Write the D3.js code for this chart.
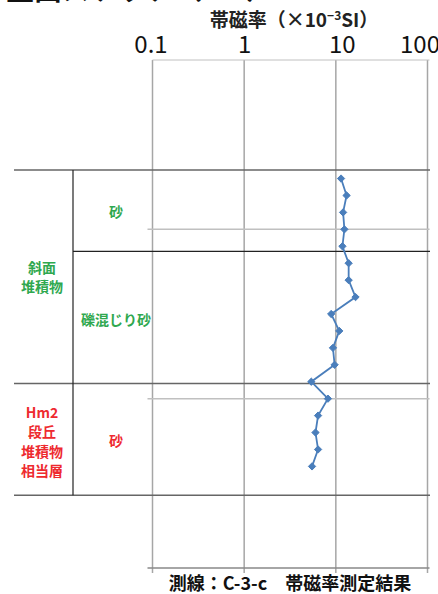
<!DOCTYPE html>
<html><head><meta charset="utf-8">
<script src="https://cdn.jsdelivr.net/npm/d3@7"></script>
<style>
html,body{margin:0;padding:0;background:#fff;}
svg{display:block;}
text{font-family:"Noto Sans CJK JP","Noto Sans",sans-serif;}
</style></head>
<body>
<svg id="chart" width="438" height="594"></svg>
<script>
// ---- data ----
const depths = [0.7,0.8,0.9,1.0,1.1,1.2,1.3,1.4,1.5,1.6,1.7,1.8,1.9,2.0,2.1,2.2,2.3,2.4];
const susceptibility = [11.4,13.1,12.0,12.4,11.8,13.8,13.8,16.4,8.9,10.9,9.3,9.7,5.4,8.2,6.4,6.0,6.4,5.5];
const xTicks = [0.1,1,10,100];
const depthGrid = [0,1,2,3];
const unitBounds = [0.65,2.57];           // outer layer boundaries (full width)
const subBounds = [1.13];                 // inner boundary (right columns)
const groupBound = [1.91];                // group boundary (full width)
const groupLabels = [["斜面","堆積物"],["Hm2","段丘","堆積物","相当層"]];
const groupDepths = [1.285, 2.255];
const groupColors = ["#2fa84f","#ee2a2f"];
const layerLabels = ["砂","礫混じり砂","砂"];
const layerDepths = [0.897, 1.535, 2.25];
const layerColors = ["#2fa84f","#2fa84f","#ee2a2f"];
const title = "壁面スケッチ（C-3）";
const caption = "測線：C-3-c　帯磁率測定結果";

const svg = d3.select("#chart");
const x = d3.scaleLog().domain([0.1,100]).range([152.5,427.5]);
const y = d3.scaleLinear().domain([0,3]).range([60,568]);

// partially cut title at top
svg.append("text").attr("x",6).attr("y",0).attr("font-size",28).attr("font-weight",700)
  .attr("fill","#111").text(title);

// axis title
const at = svg.append("text").attr("x",294).attr("y",27).attr("text-anchor","middle")
  .attr("font-size",19).attr("font-weight",700).attr("fill","#222");
at.append("tspan").text("帯磁率（×10");
at.append("tspan").attr("font-size",12).attr("dy",-7).text("−3");
at.append("tspan").attr("dy",7).text("SI）");

// top axis tick labels
const xAxis = d3.axisTop(x).tickValues(xTicks).tickFormat(d3.format("~g")).tickSize(0).tickPadding(7);
const gx = svg.append("g").attr("transform","translate(0,60)").call(xAxis);
gx.select(".domain").remove();
const dxs = [-2,0,6,-8];
gx.selectAll("text").attr("font-family","'Liberation Sans Narrow','Liberation Sans',sans-serif")
  .attr("font-size",24).attr("font-weight",400).attr("fill","#111")
  .attr("dx",(d,i)=>dxs[i]);

// vertical gridlines
svg.append("g").selectAll("line").data(xTicks).join("line")
  .attr("x1",d=>x(d)).attr("x2",d=>x(d)).attr("y1",y(0)).attr("y2",y(3)+5)
  .attr("stroke","#a6a6a6").attr("stroke-width",1.5);

// horizontal depth gridlines with left ticks
svg.append("g").selectAll("line").data(depthGrid).join("line")
  .attr("x1",d=>d===0?x(0.1):x(0.1)-5).attr("x2",x(100)+2)
  .attr("y1",d=>y(d)).attr("y2",d=>y(d))
  .attr("stroke",d=>d===3?"#888":"#c0c0c0").attr("stroke-width",d=>d===0?1:1.5);

// layer boundaries
svg.append("g").selectAll("line").data(unitBounds.concat(groupBound)).join("line")
  .attr("x1",14).attr("x2",430).attr("y1",d=>y(d)).attr("y2",d=>y(d))
  .attr("stroke","#666").attr("stroke-width",1.5);
svg.append("g").selectAll("line").data(subBounds).join("line")
  .attr("x1",73).attr("x2",430).attr("y1",d=>y(d)).attr("y2",d=>y(d))
  .attr("stroke","#222").attr("stroke-width",1.2);
svg.append("line").attr("x1",73).attr("x2",73).attr("y1",y(unitBounds[0])).attr("y2",y(unitBounds[1]))
  .attr("stroke","#222").attr("stroke-width",1.2);

// group labels
groupLabels.forEach((lines,i)=>{
  const n = lines.length, lh = 19.5;
  const t = svg.append("text").attr("text-anchor","middle").attr("font-size",14)
    .attr("font-weight",700).attr("fill",groupColors[i]);
  lines.forEach((s,j)=>{
    t.append("tspan").attr("x",42).attr("y",y(groupDepths[i]) + (j-(n-1)/2)*lh + 5).text(s);
  });
});
// layer labels
svg.append("g").selectAll("text").data(layerLabels).join("text")
  .attr("x",116).attr("y",(d,i)=>y(layerDepths[i])+5).attr("text-anchor","middle")
  .attr("font-size",14).attr("font-weight",700).attr("fill",(d,i)=>layerColors[i]).text(d=>d);

// data line
const pts = depths.map((d,i)=>[susceptibility[i],d]);
svg.append("path").datum(pts)
  .attr("d",d3.line().x(p=>x(p[0])).y(p=>y(p[1])))
  .attr("fill","none").attr("stroke","#4a7ebb").attr("stroke-width",1.8);
svg.append("g").selectAll("path").data(pts).join("path")
  .attr("transform",p=>`translate(${x(p[0])},${y(p[1])})`)
  .attr("d",d3.symbol(d3.symbolDiamond2,34))
  .attr("fill","#4a7ebb").attr("stroke","#4a7ebb").attr("stroke-width",1);

// caption
svg.append("text").attr("x",290).attr("y",590).attr("text-anchor","middle")
  .attr("font-size",18).attr("font-weight",700).attr("fill","#111").text(caption);
</script>
</body></html>
